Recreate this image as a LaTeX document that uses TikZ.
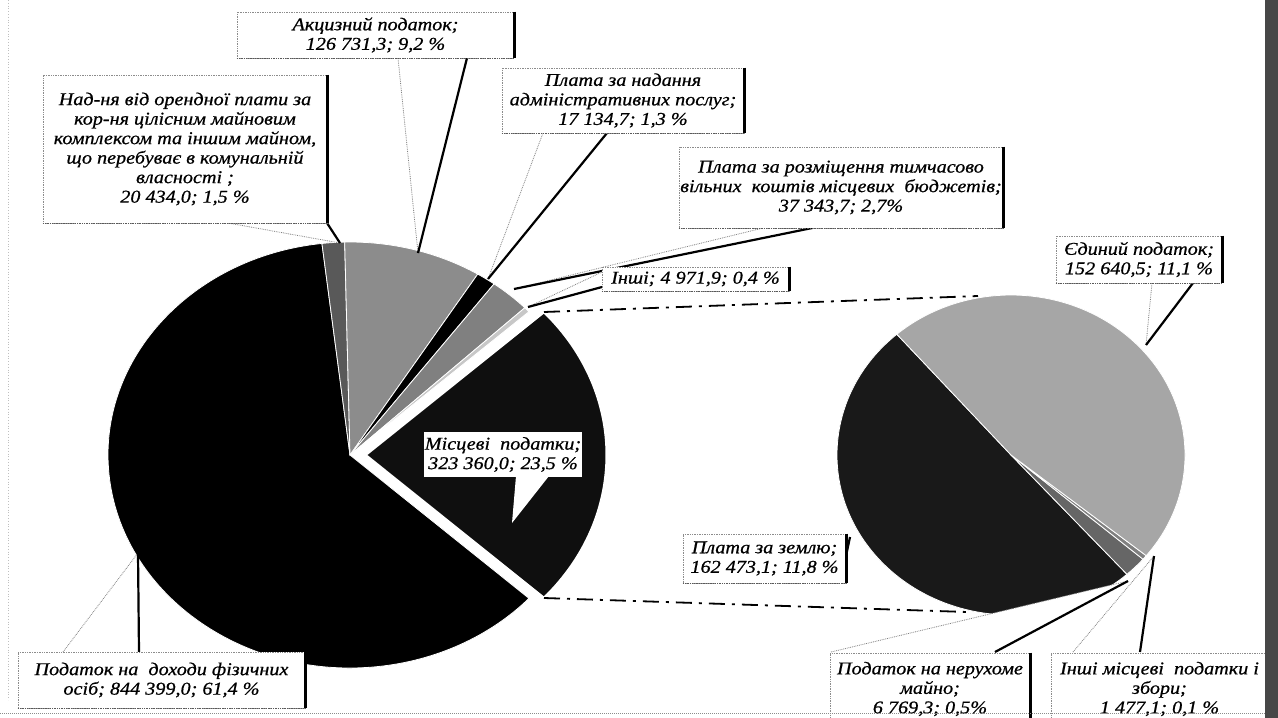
\documentclass[tikz,border=0pt]{standalone}
\usepackage{fontspec}
\setmainfont{Liberation Serif}[FakeStretch=1.12, FakeBold=0.7]
\usetikzlibrary{calc}
\newcommand{\pslice}[7]{%
  \filldraw[#7] (#1,#2) -- ($(#1,#2)+(-#5:#3 and #4)$) arc[start angle=-#5, end angle=-#6, x radius=#3, y radius=#4] -- cycle;}
\newcommand{\callptr}[3]{%
  \fill[white] (#1) -- (#3) -- (#2) -- cycle;
  \draw[ptrthin] (#1) -- (#3);
  \draw[ptrthick] (#2) -- (#3);}
\newcommand{\boxedge}[1]{%
  \draw[boxbottom] (#1.south west) -- (#1.south east);
  \draw[boxright] (#1.north east) -- (#1.south east);}
\begin{document}
\begin{tikzpicture}[x=1pt,y=-1pt,
  lbl/.style={font=\fontsize{18}{19.5}\selectfont\itshape, align=center, fill=white,
    draw=black!45, densely dotted, line width=0.7pt, inner sep=1pt},
  boxright/.style={black, line width=3.5pt},
  boxbottom/.style={black!65, densely dotted, line width=1.3pt},
  ptrthin/.style={black!50, densely dotted, line width=0.8pt},
  ptrthick/.style={black, line width=2.2pt},
  series/.style={black, line width=1.8pt, dash pattern=on 16pt off 7pt on 3pt off 7pt},
  sl/.style={draw=white, line width=0.8pt},
]
\useasboundingbox (0,0) rectangle (1278,718);
\fill[white] (0,0) rectangle (1278,718);

% ---- left pie (centre 350,455) ----
\pslice{350}{455}{242}{213}{96.66}{317.7}{sl, fill=black}
\pslice{350}{455}{242}{213}{91.26}{96.66}{sl, fill=black!65}
\pslice{350}{455}{242}{213}{58.14}{91.26}{sl, fill=black!45}
\pslice{350}{455}{242}{213}{53.46}{58.14}{sl, fill=black}
\pslice{350}{455}{242}{213}{43.74}{53.46}{sl, fill=black!50}
\pslice{350}{455}{242}{213}{42.3}{43.74}{sl, fill=black!22}
% exploded slice
\pslice{365}{455}{242}{213}{317.7}{402.3}{draw=white, line width=3pt, fill=black!94}

% ---- right pie (centre 1011,455) ----
\pslice{1011}{455}{174}{160}{131}{311.8}{sl, fill=black!90}
\pslice{1011}{455}{174}{160}{311.8}{319.35}{sl, fill=black!60}
\pslice{1011}{455}{174}{160}{319.35}{321}{sl, fill=black!50}
\pslice{1011}{455}{174}{160}{321}{491}{sl, fill=black!35}

% ---- series lines ----
\coordinate (mtop) at (544,312);
\coordinate (mbot) at (544,598);
\coordinate (rtop) at (978,296);
\coordinate (rbot) at (967,612);
\draw[series] (mtop) -- (rtop);
\draw[series] (mbot) -- (rbot);

% ---- pointer coordinates ----
\coordinate (akcA) at (398,58);  \coordinate (akcB) at (467,58);  \coordinate (akcT) at (418,253);
\coordinate (orA) at (228,223);  \coordinate (orB) at (327,223);  \coordinate (orT) at (340,243);
\coordinate (adA) at (543,133);  \coordinate (adB) at (607,133);  \coordinate (adT) at (488,279);
\coordinate (rzA) at (763,228);  \coordinate (rzB) at (817,227);  \coordinate (rzT) at (514,289);
\coordinate (inA) at (602,272);  \coordinate (inB) at (602,287);  \coordinate (inT) at (528,307);
\coordinate (yeA) at (1152,283); \coordinate (yeB) at (1193,283); \coordinate (yeT) at (1146,345);
\coordinate (zmA) at (846,546);  \coordinate (zmB) at (846,556);  \coordinate (zmT) at (850,537);
\coordinate (nrA) at (831,652);  \coordinate (nrB) at (995,652);  \coordinate (nrT) at (1128,581);
\coordinate (imA) at (1073,652); \coordinate (imB) at (1140,652); \coordinate (imT) at (1154,556);
\coordinate (pdA) at (63,652);   \coordinate (pdB) at (139,652);  \coordinate (pdT) at (138,553);
\coordinate (msA) at (516,476);  \coordinate (msB) at (549,476);  \coordinate (msT) at (512,523);

\callptr{akcA}{akcB}{akcT}
\callptr{orA}{orB}{orT}
\callptr{adA}{adB}{adT}
\callptr{rzA}{rzB}{rzT}
\callptr{inA}{inB}{inT}
\callptr{yeA}{yeB}{yeT}
\callptr{zmA}{zmB}{zmT}
\callptr{nrA}{nrB}{nrT}
\callptr{imA}{imB}{imT}
\callptr{pdA}{pdB}{pdT}
\fill[white] (msA) -- (msT) -- (msB) -- cycle;

% ---- label boxes ----
\node[lbl, minimum width=277pt, minimum height=46pt] (akc) at (375.5,35)
  {Акцизний податок;\\126 731,3; 9,2 \%};
\node[lbl, minimum width=284pt, minimum height=148pt] (orend) at (185,149)
  {Над-ня від орендної плати за\\кор-ня цілісним майновим\\комплексом та іншим майном,\\що перебуває в комунальній\\власності ;\\20 434,0; 1,5 \%};
\node[lbl, minimum width=242pt, minimum height=65pt] (admin) at (623,100.5)
  {Плата за надання\\адміністративних послуг;\\17 134,7; 1,3 \%};
\node[lbl, minimum width=324pt, minimum height=81pt] (rozm) at (841,187.5)
  {Плата за розміщення тимчасово\\вільних\ \ коштів місцевих\ \ бюджетів;\\37 343,7; 2,7\%};
\node[lbl, minimum width=187pt, minimum height=24pt] (inshi) at (695.5,279)
  {Інші; 4 971,9; 0,4 \%};
\node[lbl, minimum width=166pt, minimum height=47pt] (yed) at (1139,259.5)
  {Єдиний податок;\\152 640,5; 11,1 \%};
\node[lbl, minimum width=163pt, minimum height=49pt] (zem) at (764.5,558.5)
  {Плата за землю;\\162 473,1; 11,8 \%};
\node[lbl, minimum width=200pt, minimum height=72pt] (neruh) at (930,689)
  {Податок на нерухоме\\майно;\\6 769,3; 0,5\%};
\node[lbl, minimum width=217pt, minimum height=72pt] (inshim) at (1159.5,689)
  {Інші місцеві\ \ податки і\\збори;\\1 477,1; 0,1 \%};
\node[lbl, minimum width=287pt, minimum height=56pt] (pdfo) at (161.5,680)
  {Податок на\ \ доходи фізичних\\осіб; 844 399,0; 61,4 \%};
\node[lbl, draw=none, minimum width=158pt, minimum height=45pt] (mists) at (503,454.5)
  {Місцеві\ \ податки;\\323 360,0; 23,5 \%};

\boxedge{akc}
\boxedge{orend}
\boxedge{admin}
\boxedge{rozm}
\boxedge{inshi}
\boxedge{yed}
\boxedge{zem}
\boxedge{neruh}
\boxedge{inshim}
\boxedge{pdfo}

% ---- scan edges ----
\fill[black!72] (1265,0) rectangle (1278,718);
\draw[black!45, densely dotted, line width=1pt] (0,713) -- (1265,713);
\draw[black!25, dotted, line width=0.8pt] (8,0) -- (8,700);
\end{tikzpicture}
\end{document}
